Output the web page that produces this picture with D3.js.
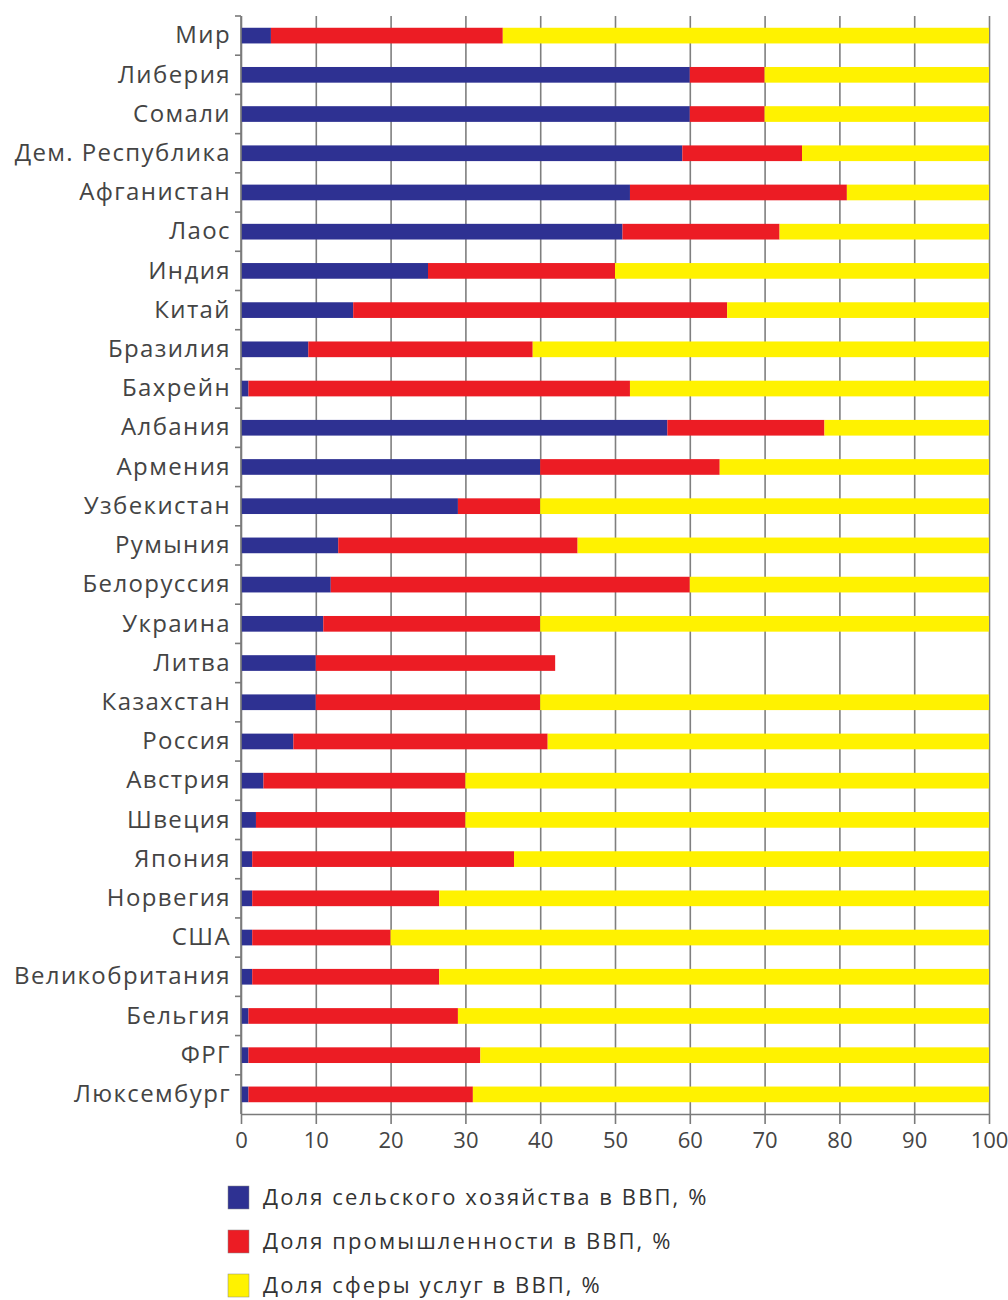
<!DOCTYPE html>
<html>
<head>
<meta charset="utf-8">
<script src="https://cdn.jsdelivr.net/npm/d3@7"></script>
<style>
  body { margin: 0; background: #fff; }
  .eje path, .eje line { stroke: #7a7a7a; stroke-width: 1.6px; }
  .eje text { fill: #444; font-family: "Open Sans", sans-serif; }
  .grid line { stroke: #7f7f7f; stroke-width: 1.6px; }
  .grid path { display: none; }
</style>
</head>
<body>
<div id="barras"></div>
<script>
/////////// DATOS /////////
var paises = ["Мир", "Либерия", "Сомали", "Дем. Республика", "Афганистан", "Лаос", "Индия", "Китай",
  "Бразилия", "Бахрейн", "Албания", "Армения", "Узбекистан", "Румыния", "Белоруссия", "Украина",
  "Литва", "Казахстан", "Россия", "Австрия", "Швеция", "Япония", "Норвегия", "США",
  "Великобритания", "Бельгия", "ФРГ", "Люксембург"];

var agricultura = [4, 60, 60, 59, 52, 51, 25, 15, 9, 1, 57, 40, 29, 13, 12, 11,
  10, 10, 7, 3, 2, 1.5, 1.5, 1.5, 1.5, 1, 1, 1];

var industria = [31, 10, 10, 16, 29, 21, 25, 50, 30, 51, 21, 24, 11, 32, 48, 29,
  32, 30, 34, 27, 28, 35, 25, 18.5, 25, 28, 31, 30];

var servicios = [65, 30, 30, 25, 19, 28, 50, 35, 61, 48, 22, 36, 60, 55, 40, 60,
  0, 60, 59, 70, 70, 63.5, 73.5, 80, 73.5, 71, 68, 69];

var ticksX = [0, 10, 20, 30, 40, 50, 60, 70, 80, 90, 100];

var series = ["Доля сельского хозяйства в ВВП, %", "Доля промышленности в ВВП, %", "Доля сферы услуг в ВВП, %"];
var colores = ["#2e3192", "#ec1c24", "#fff200"];

/////////// DISTANCIA /////////
var margin = {top: 16, right: 19, bottom: 186, left: 241},
    width = 1008 - margin.left - margin.right,
    height = 1300 - margin.top - margin.bottom;

var svg = d3.select("#barras").append("svg")
    .attr("width", 1008)
    .attr("height", 1300)
  .append("g")
    .attr("transform", "translate(" + margin.left + "," + margin.top + ")");

// tabla para el stack
var tabla = paises.map(function(p, i) {
  return {pais: p, a: agricultura[i], b: industria[i], c: servicios[i]};
});
var apilado = d3.stack().keys(["a", "b", "c"])(tabla);

/////////// ESCALAS /////////
var x = d3.scaleLinear().domain([0, 100]).range([0, width]);
var y = d3.scaleBand().domain(paises).range([0, height])
    .paddingInner(0.6).paddingOuter(0.3);

// GRID X
svg.append("g")
  .attr("class", "grid")
  .call(d3.axisTop(x).tickValues(ticksX).tickSize(-height).tickFormat(""));

/////////// BARRAS /////////
svg.append("g")
  .selectAll("g")
  .data(apilado)
  .enter().append("g")
    .attr("fill", function(d, i) { return colores[i]; })
  .selectAll("rect")
  .data(function(d) { return d; })
  .enter().append("rect")
    .attr("x", function(d) { return x(d[0]); })
    .attr("y", function(d) { return y(d.data.pais); })
    .attr("width", function(d) { return x(d[1]) - x(d[0]); })
    .attr("height", y.bandwidth());

/////////// EJE Y /////////
var ejeY = svg.append("g")
  .attr("class", "eje")
  .call(d3.axisLeft(y).tickSize(0).tickPadding(10));
ejeY.select(".domain").attr("d", "M0,0V" + height);
ejeY.selectAll("text")
  .attr("font-size", "24px")
  .attr("letter-spacing", "1.4px")
  .attr("fill", "#333");

// marcas entre filas
svg.append("g")
  .selectAll("line")
  .data(d3.range(paises.length))
  .enter().append("line")
    .attr("x1", -6).attr("x2", 0)
    .attr("y1", function(i) { return y.step() * i; })
    .attr("y2", function(i) { return y.step() * i; })
    .attr("stroke", "#7a7a7a")
    .attr("stroke-width", 1.6);

/////////// EJE X /////////
var ejeX = svg.append("g")
  .attr("class", "eje")
  .attr("transform", "translate(0," + height + ")")
  .call(d3.axisBottom(x).tickValues(ticksX).tickSize(10).tickSizeOuter(0).tickPadding(8));
ejeX.selectAll("text").attr("font-size", "22px").attr("fill", "#555");

/////////// LEYENDA /////////
var leyenda = svg.append("g")
  .attr("transform", "translate(" + (228 - margin.left) + "," + (height + 72) + ")");

var item = leyenda.selectAll("g")
  .data(series)
  .enter().append("g")
    .attr("transform", function(d, i) { return "translate(0," + (i * 44) + ")"; });

item.append("rect")
  .attr("width", 21)
  .attr("height", 23)
  .attr("fill", function(d, i) { return colores[i]; })
  .attr("stroke", "#888")
  .attr("stroke-width", 0.5);

item.append("text")
  .attr("x", 35)
  .attr("y", 11)
  .attr("dy", "0.35em")
  .attr("font-family", "'Open Sans', sans-serif")
  .attr("font-size", "22px")
  .attr("letter-spacing", "2.1px")
  .attr("fill", "#333")
  .text(function(d) { return d; });
</script>
</body>
</html>
